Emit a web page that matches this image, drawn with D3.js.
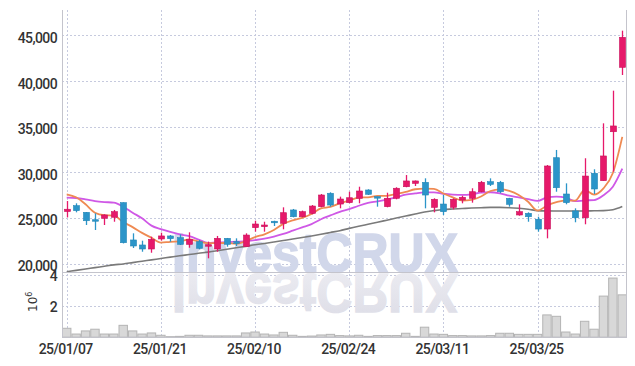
<!DOCTYPE html>
<html>
<head>
<meta charset="utf-8">
<script src="https://cdn.jsdelivr.net/npm/d3@7"></script>
<style>
  body { margin: 0; background: #fff; }
  svg { display: block; }
  .lbl { font-family: Roboto, "DejaVu Sans", sans-serif; font-weight: 500; font-size: 14px; fill: #333; letter-spacing: -0.6px; }
</style>
</head>
<body>
<svg id="vis" width="635" height="366"></svg>
<script>
// trading days shown on the chart
const dates = ["25/01/07","25/01/08","25/01/09","25/01/10","25/01/13","25/01/14","25/01/15","25/01/16","25/01/17","25/01/20",
  "25/01/21","25/01/22","25/01/23","25/01/24","25/01/31","25/02/03","25/02/04","25/02/05","25/02/06","25/02/07",
  "25/02/10","25/02/11","25/02/12","25/02/13","25/02/14","25/02/17","25/02/18","25/02/19","25/02/20","25/02/21",
  "25/02/24","25/02/25","25/02/26","25/02/27","25/02/28","25/03/04","25/03/05","25/03/06","25/03/07","25/03/10",
  "25/03/11","25/03/12","25/03/13","25/03/14","25/03/17","25/03/18","25/03/19","25/03/20","25/03/21","25/03/24",
  "25/03/25","25/03/26","25/03/27","25/03/28","25/03/31","25/04/01","25/04/02","25/04/03","25/04/04","25/04/07"];

const opens = [25700,26340,25610,24800,24960,25070,26670,22580,22030,21590,
  22690,23020,22830,22100,22390,21940,21590,22760,22390,21860,
  23930,24040,24630,24410,25870,25130,25500,26230,27700,26520,
  26670,27150,28060,27330,26230,27150,28420,28790,28900,26160,
  26520,26160,26960,27150,27870,28970,28900,27150,25320,25500,
  24850,23780,31600,27620,25760,25020,29890,29080,34450,41510];
const highs = [26850,26600,25650,25500,25400,25870,26700,23310,22500,22940,
  23380,23120,23200,23420,22580,22400,23020,22800,22760,23310,
  24690,24580,24690,26160,25980,25800,26410,27620,27810,27330,
  27870,28420,28140,27330,27760,28360,29700,29100,29340,27150,
  27510,27150,27430,28250,29050,29340,29050,27200,26490,25610,
  25130,30800,32450,28790,26050,31540,30330,35370,38950,45530];
const lows = [25050,25610,24220,23670,24220,24580,22200,21700,21290,21180,
  22500,22390,22030,21730,21560,20570,21290,21840,21920,21840,
  23490,23490,24110,23750,25060,25060,25390,26160,26230,26050,
  26600,26600,27510,26230,26160,27040,28360,28500,26050,25610,
  25320,25940,26600,26670,27810,28500,27700,26230,25240,24580,
  23490,22760,27870,26490,24520,24300,27620,29080,30070,40670];
const closes = [25950,25790,24690,24750,25320,25680,22280,21920,21590,22650,
  23020,22720,22100,22650,21670,22060,22760,22100,22210,23120,
  24330,24220,24470,25570,25130,25680,26300,27510,26410,27070,
  27210,27950,27590,27210,27150,28250,29050,29050,27510,27040,
  25680,27040,27260,27870,28900,28680,27870,26490,25680,25130,
  23780,30690,28310,26670,25020,29590,28170,31790,35080,44800];

// moving average lines (orange, purple, gray)
const ma5 = [27590,27260,26490,25570,25300,25250,24540,23990,23360,22820,
  22290,22380,22420,22630,22430,22240,22250,22250,22160,22450,
  22900,23200,23670,24340,24740,25010,25430,26040,26210,26590,
  26900,27230,27250,27410,27420,27630,27850,28140,28200,28180,
  27670,27260,26910,26980,27350,27950,28120,27960,27520,26770,
  25790,26350,26720,26920,26890,28060,27550,28240,29920,33880];
const ma10 = [27220,27180,27040,26850,26740,26670,26230,25570,24960,24150,
  23770,23460,23200,22990,22630,22270,22310,22330,22390,22440,
  22570,22720,22960,23250,23600,23960,24310,24850,25270,25670,
  25960,26330,26640,26810,27010,27270,27540,27690,27800,27800,
  27650,27560,27520,27590,27770,27810,27690,27430,27250,27060,
  26870,27240,27340,27220,26830,26920,26950,27480,28420,30390];
const maLong = [19100,19250,19400,19550,19700,19850,19950,20100,20250,20400,
  20550,20700,20850,20980,21120,21250,21400,21560,21720,21880,
  22050,22200,22360,22520,22680,22850,23020,23200,23400,23600,
  23850,24080,24300,24520,24750,24980,25200,25420,25650,25800,
  25920,25980,26030,26080,26120,26150,26150,26120,26050,25950,
  25800,25770,25760,25750,25750,25760,25780,25800,25900,26250];

// volume, millions of shares
const volumes = [0.58,0.21,0.41,0.52,0.21,0.21,0.77,0.41,0.21,0.28,
  0.13,0.04,0.06,0.13,0.13,0.09,0.09,0.09,0.09,0.28,
  0.34,0.21,0.15,0.32,0.13,0.06,0.08,0.15,0.19,0.11,
  0.09,0.13,0.06,0.11,0.11,0.11,0.26,0.06,0.65,0.21,
  0.19,0.11,0.11,0.09,0.09,0.11,0.26,0.26,0.19,0.19,
  0.19,1.44,1.35,0.34,0.21,1.03,0.52,2.65,3.81,2.73];

const dateTicks = ["25/01/07","25/01/21","25/02/10","25/02/24","25/03/11","25/03/25"];
const priceTicks = [20000,25000,30000,35000,40000,45000];
const volTicks = [2,4];

function draw() {
    let svg = d3.select("#vis");
    let left = 62, right = 627;
    let priceTop = 10, priceBottom = 272, volBottom = 337.3;

    let x = d3.scaleBand().domain(dates).range([left, right]).padding(0);
    let cx = (d) => x(d) + x.bandwidth() / 2;
    let y = d3.scaleLinear().domain([19068, 47796]).range([priceBottom, priceTop]);
    let yv = d3.scaleLinear().domain([0, 4.2]).range([volBottom, priceBottom]);

    let grid = svg.append("g")
        .attr("stroke", "#c6cade")
        .attr("stroke-dasharray", "2,2");
    grid.selectAll(".hp").data(priceTicks).enter().append("line")
        .attr("x1", left).attr("x2", right)
        .attr("y1", (d) => Math.round(y(d)) + 0.5).attr("y2", (d) => Math.round(y(d)) + 0.5);
    grid.selectAll(".hv").data(volTicks).enter().append("line")
        .attr("x1", left).attr("x2", right)
        .attr("y1", (d) => Math.round(yv(d)) + 0.5).attr("y2", (d) => Math.round(yv(d)) + 0.5);
    grid.selectAll(".vx").data(dateTicks).enter().append("line")
        .attr("x1", (d) => Math.round(cx(d)) + 0.5).attr("x2", (d) => Math.round(cx(d)) + 0.5)
        .attr("y1", priceTop).attr("y2", volBottom);

    // watermark and its reflection
    let defs = svg.append("defs");
    let grad = defs.append("linearGradient").attr("id", "fade")
        .attr("x1", 0).attr("y1", 0).attr("x2", 0).attr("y2", 1);
    grad.append("stop").attr("offset", "0%").attr("stop-color", "#dcdce6");
    grad.append("stop").attr("offset", "100%").attr("stop-color", "#eeeef3");
    defs.append("clipPath").attr("id", "volclip").append("rect")
        .attr("x", left).attr("y", priceBottom).attr("width", right - left).attr("height", volBottom - priceBottom);

    svg.append("text")
        .attr("x", 172).attr("y", 272)
        .attr("textLength", 286).attr("lengthAdjust", "spacingAndGlyphs")
        .style("font-family", "'Liberation Sans', Arial, sans-serif").style("font-weight", "bold").style("font-size", "55px")
        .attr("fill", "#d1d7ea").attr("stroke", "#d1d7ea").attr("stroke-width", 1.5)
        .text("InvestCRUX");
    svg.append("g").attr("clip-path", "url(#volclip)")
        .append("text")
        .attr("transform", "translate(0,546) scale(1,-1)")
        .attr("x", 172).attr("y", 272)
        .attr("textLength", 286).attr("lengthAdjust", "spacingAndGlyphs")
        .style("font-family", "'Liberation Sans', Arial, sans-serif").style("font-weight", "bold").style("font-size", "55px")
        .attr("fill", "url(#fade)").attr("stroke", "url(#fade)").attr("stroke-width", 1.5)
        .text("InvestCRUX");

    // volume bars
    svg.append("g").selectAll("rect").data(dates).enter().append("rect")
        .attr("x", (d) => x(d) + 0.5)
        .attr("y", (d, i) => yv(volumes[i]))
        .attr("width", x.bandwidth() - 1)
        .attr("height", (d, i) => volBottom - yv(volumes[i]))
        .attr("fill", "#d8d8d8")
        .attr("stroke", "#b4b4b4")
        .attr("stroke-width", 1);

    // moving averages
    let maLine = (arr) => d3.line().x((d) => cx(d)).y((d, i) => y(arr[i])).curve(d3.curveMonotoneX)(dates);
    svg.append("path").attr("d", maLine(maLong)).attr("fill", "none").attr("stroke", "#7a7a7a").attr("stroke-width", 1.6);
    svg.append("path").attr("d", maLine(ma10)).attr("fill", "none").attr("stroke", "#cf58e6").attr("stroke-width", 1.8);
    svg.append("path").attr("d", maLine(ma5)).attr("fill", "none").attr("stroke", "#ef8a52").attr("stroke-width", 1.8);

    // candles
    let color = (i) => closes[i] >= opens[i] ? "#e6196a" : "#2b95c9";
    let candles = svg.append("g").selectAll("g").data(dates).enter().append("g");
    candles.append("line")
        .attr("x1", (d) => Math.round(cx(d)) + 0.5).attr("x2", (d) => Math.round(cx(d)) + 0.5)
        .attr("y1", (d, i) => y(highs[i])).attr("y2", (d, i) => y(lows[i]))
        .attr("stroke", (d, i) => color(i)).attr("stroke-width", 1.3);
    candles.append("rect")
        .attr("x", (d) => Math.round(cx(d)) - 2.5)
        .attr("y", (d, i) => y(Math.max(opens[i], closes[i])))
        .attr("width", 6)
        .attr("height", (d, i) => Math.max(1.5, Math.abs(y(opens[i]) - y(closes[i]))))
        .attr("fill", (d, i) => color(i))
        .attr("stroke", (d, i) => closes[i] >= opens[i] ? "#c8105a" : "#2386b6")
        .attr("stroke-width", 0.6);

    // frame
    let frame = svg.append("g").attr("stroke", "#c4c4cc").attr("fill", "none");
    frame.append("line").attr("x1", left + 0.5).attr("x2", left + 0.5).attr("y1", priceTop).attr("y2", volBottom);
    frame.append("line").attr("x1", right - 0.5).attr("x2", right - 0.5).attr("y1", priceTop).attr("y2", volBottom);
    frame.append("line").attr("x1", left).attr("x2", right).attr("y1", priceBottom + 0.5).attr("y2", priceBottom + 0.5);
    frame.append("line").attr("x1", left).attr("x2", right).attr("y1", volBottom).attr("y2", volBottom);

    // axis labels
    svg.append("g").selectAll("text").data(priceTicks).enter().append("text")
        .attr("class", "lbl")
        .attr("x", 57).attr("y", (d) => y(d) + 7.5)
        .attr("text-anchor", "end")
        .text((d) => d3.format(",")(d));
    svg.append("g").selectAll("text").data(volTicks).enter().append("text")
        .attr("class", "lbl")
        .attr("x", 57).attr("y", (d) => yv(d) + 5.5)
        .attr("text-anchor", "end")
        .text((d) => d);
    svg.append("g").selectAll("text").data(dateTicks).enter().append("text")
        .attr("class", "lbl")
        .attr("x", (d) => cx(d) - 1).attr("y", 354)
        .attr("text-anchor", "middle")
        .text((d) => d);

    let unit = svg.append("text")
        .attr("transform", "translate(37,312) rotate(-90)")
        .style("font-family", "'DejaVu Sans', sans-serif").style("font-size", "12px").attr("fill", "#333");
    unit.append("tspan").text("10");
    unit.append("tspan").attr("dy", -5).style("font-size", "8px").text("6");
}

document.addEventListener('DOMContentLoaded', () => {
    draw();
})
</script>
</body>
</html>
